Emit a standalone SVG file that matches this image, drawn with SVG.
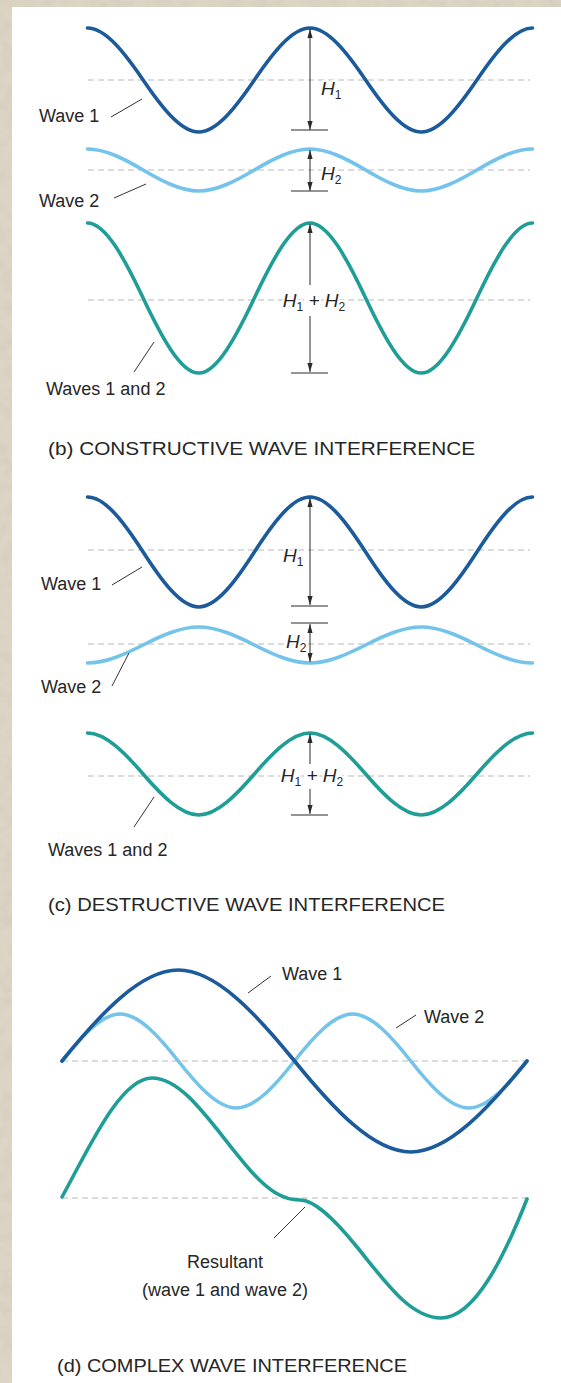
<svg xmlns="http://www.w3.org/2000/svg" width="561" height="1383" viewBox="0 0 561 1383">
<style>
.bg{fill:#ddd5c4}
.panel{fill:#ffffff}
.wv{fill:none;stroke-width:3.6;stroke-linecap:round}
.w1{stroke:#1b5a9b}
.w2{stroke:#74c3ea}
.w3{stroke:#1f9d97}
.dash{stroke:#b8b8b8;stroke-width:1;stroke-dasharray:6 4;fill:none}
.dim{stroke:#2a2a2a;stroke-width:1;fill:none}
.arr{stroke:#2a2a2a;stroke-width:1;fill:none;marker-end:url(#ah)}
.arr2{stroke:#2a2a2a;stroke-width:1;fill:none;marker-start:url(#ah);marker-end:url(#ah)}
.lead{stroke:#333;stroke-width:1;fill:none}
.lbl{font-family:"Liberation Sans",Arial,sans-serif;font-size:18px;fill:#262626}
.cap{font-family:"Liberation Sans",Arial,sans-serif;font-size:18px;fill:#262626}
.h{font-family:"Liberation Sans",Arial,sans-serif;font-style:italic;font-size:19px;fill:#262626;stroke:#fff;stroke-width:4;paint-order:stroke}
.sub{font-size:12px;font-style:normal}
</style>
<defs>
<filter id="tex" x="0" y="0" width="100%" height="100%">
<feTurbulence type="fractalNoise" baseFrequency="0.07" numOctaves="3" seed="7" result="n"/>
<feColorMatrix in="n" type="matrix" values="0 0 0 0 0.55  0 0 0 0 0.5  0 0 0 0 0.42  0.55 0 0 0 -0.2"/>
</filter>
<marker id="ah" markerUnits="userSpaceOnUse" markerWidth="10" markerHeight="6" refX="9" refY="3" orient="auto-start-reverse">
<path d="M0,0.4 L9,3 L0,5.6 z" fill="#2a2a2a"/>
</marker>
<path id="cosw" vector-effect="non-scaling-stroke" d="M0,-1 C0.08155,-1 0.16846,-0.5123 0.25,0 C0.33153,0.5123 0.41845,1 0.5,1 C0.58155,1 0.66846,0.5123 0.75,0 C0.83153,-0.5123 0.91845,-1 1,-1 C1.08155,-1 1.16846,-0.5123 1.25,0 C1.33153,0.5123 1.41845,1 1.5,1 C1.58155,1 1.66846,0.5123 1.75,0 C1.83153,-0.5123 1.91845,-1 2,-1"/>
<path id="sin1" vector-effect="non-scaling-stroke" d="M0,0 C0.08153,-0.5123 0.16845,-1 0.25,-1 C0.33155,-1 0.41847,-0.5123 0.5,0 C0.58153,0.5123 0.66845,1 0.75,1 C0.83155,1 0.91847,0.5123 1,0"/>
<path id="sin2" vector-effect="non-scaling-stroke" d="M0,0 C0.08153,-0.5123 0.16845,-1 0.25,-1 C0.33155,-1 0.41847,-0.5123 0.5,0 C0.58153,0.5123 0.66845,1 0.75,1 C0.83155,1 0.91847,0.5123 1,0 C1.08153,-0.5123 1.16845,-1 1.25,-1 C1.33155,-1 1.41847,-0.5123 1.5,0 C1.58153,0.5123 1.66845,1 1.75,1 C1.83155,1 1.91847,0.5123 2,0"/>
</defs>

<rect class="bg" x="0" y="0" width="561" height="1383"/>
<rect x="0" y="0" width="561" height="1383" filter="url(#tex)"/>
<rect class="panel" x="12" y="7" width="549" height="1376"/>

<!-- (b) constructive -->
<g id="section-b">
<g id="b-guides">
<line class="dash" x1="88" y1="80" x2="530" y2="80"/>
<line class="dash" x1="88" y1="170" x2="530" y2="170"/>
<line class="dash" x1="88" y1="300" x2="530" y2="300"/>
</g>
<g id="b-wave1"><use href="#cosw" class="wv w1" transform="translate(87.5,80) scale(222.5,52)"/></g>
<g id="b-wave2"><use href="#cosw" class="wv w2" transform="translate(87.5,170) scale(222.5,21)"/></g>
<g id="b-sum"><use href="#cosw" class="wv w3" transform="translate(87.5,298) scale(222.5,75)"/></g>
<g id="b-dims">
<line class="arr2" x1="310" y1="29" x2="310" y2="130"/>
<line class="dim" x1="291" y1="130" x2="328" y2="130"/>
<line class="arr2" x1="310" y1="150" x2="310" y2="191"/>
<line class="dim" x1="291" y1="191" x2="328" y2="191"/>
<line class="arr" x1="310" y1="285" x2="310" y2="224"/>
<line class="arr" x1="310" y1="316" x2="310" y2="372"/>
<line class="dim" x1="291" y1="373" x2="328" y2="373"/>
</g>
<g id="b-leaders">
<line class="lead" x1="111" y1="117" x2="142" y2="99"/>
<line class="lead" x1="114" y1="198" x2="146" y2="184"/>
<line class="lead" x1="134" y1="372" x2="154" y2="342"/>
</g>
<g id="b-labels">
<text class="h" x="321" y="95">H<tspan class="sub" dy="4">1</tspan></text>
<text class="h" x="321" y="180">H<tspan class="sub" dy="4">2</tspan></text>
<text class="h" x="314" y="307" text-anchor="middle">H<tspan class="sub" dy="4">1</tspan><tspan dy="-4"> + H</tspan><tspan class="sub" dy="4">2</tspan></text>
<text class="lbl" x="39" y="122">Wave 1</text>
<text class="lbl" x="39" y="207">Wave 2</text>
<text class="lbl" x="46" y="395">Waves 1 and 2</text>
<text class="cap" x="48" y="455" textLength="427" lengthAdjust="spacingAndGlyphs">(b) CONSTRUCTIVE WAVE INTERFERENCE</text>
</g>
</g>

<!-- (c) destructive -->
<g id="section-c">
<g id="c-guides">
<line class="dash" x1="88" y1="550" x2="530" y2="550"/>
<line class="dash" x1="88" y1="644" x2="530" y2="644"/>
<line class="dash" x1="88" y1="776" x2="530" y2="776"/>
</g>
<g id="c-wave1"><use href="#cosw" class="wv w1" transform="translate(87.5,552) scale(222.5,55)"/></g>
<g id="c-wave2"><use href="#cosw" class="wv w2" transform="translate(87.5,645) scale(222.5,-18)"/></g>
<g id="c-sum"><use href="#cosw" class="wv w3" transform="translate(87.5,774) scale(222.5,41)"/></g>
<g id="c-dims">
<line class="arr2" x1="310" y1="498" x2="310" y2="605"/>
<line class="dim" x1="291" y1="606" x2="328" y2="606"/>
<line class="dim" x1="291" y1="623" x2="328" y2="623"/>
<line class="arr2" x1="310" y1="624" x2="310" y2="662"/>
<line class="arr" x1="310" y1="764" x2="310" y2="734"/>
<line class="arr" x1="310" y1="789" x2="310" y2="814"/>
<line class="dim" x1="291" y1="815" x2="328" y2="815"/>
</g>
<g id="c-leaders">
<line class="lead" x1="112" y1="585" x2="142" y2="567"/>
<line class="lead" x1="112" y1="686" x2="129" y2="653"/>
<line class="lead" x1="134" y1="827" x2="154" y2="797"/>
</g>
<g id="c-labels">
<text class="h" x="283" y="562">H<tspan class="sub" dy="4">1</tspan></text>
<text class="h" x="286" y="648">H<tspan class="sub" dy="4">2</tspan></text>
<text class="h" x="312" y="782" text-anchor="middle">H<tspan class="sub" dy="4">1</tspan><tspan dy="-4"> + H</tspan><tspan class="sub" dy="4">2</tspan></text>
<text class="lbl" x="41" y="590">Wave 1</text>
<text class="lbl" x="41" y="693">Wave 2</text>
<text class="lbl" x="48" y="856">Waves 1 and 2</text>
<text class="cap" x="48" y="911" textLength="397" lengthAdjust="spacingAndGlyphs">(c) DESTRUCTIVE WAVE INTERFERENCE</text>
</g>
</g>

<!-- (d) complex -->
<g id="section-d">
<g id="d-guides">
<line class="dash" x1="62" y1="1061" x2="527" y2="1061"/>
<line class="dash" x1="62" y1="1198" x2="527" y2="1198"/>
</g>
<g id="d-wave2"><use href="#sin2" class="wv w2" transform="translate(62,1061) scale(232.5,47)"/></g>
<g id="d-wave1"><use href="#sin1" class="wv w1" transform="translate(62,1061) scale(465,91)"/></g>
<g id="d-sum"><path class="wv w3" d="M62,1197 C88,1150 120,1078 152,1078 C185,1078 215,1130 250,1170 C268,1190.6 283,1200 300,1200 C315,1200 335,1220 357,1247 C385,1281.4 410,1318 441,1318 C475,1318 505,1255 527,1199"/></g>
<g id="d-leaders">
<line class="lead" x1="248" y1="993" x2="271" y2="976"/>
<line class="lead" x1="396" y1="1028" x2="416" y2="1015"/>
<line class="lead" x1="274" y1="1238" x2="305" y2="1207"/>
</g>
<g id="d-labels">
<text class="lbl" x="282" y="980">Wave 1</text>
<text class="lbl" x="424" y="1023">Wave 2</text>
<text class="lbl" x="225" y="1268" text-anchor="middle">Resultant</text>
<text class="lbl" x="225" y="1296" text-anchor="middle">(wave 1 and wave 2)</text>
<text class="cap" x="57" y="1372" textLength="350" lengthAdjust="spacingAndGlyphs">(d) COMPLEX WAVE INTERFERENCE</text>
</g>
</g>
</svg>
